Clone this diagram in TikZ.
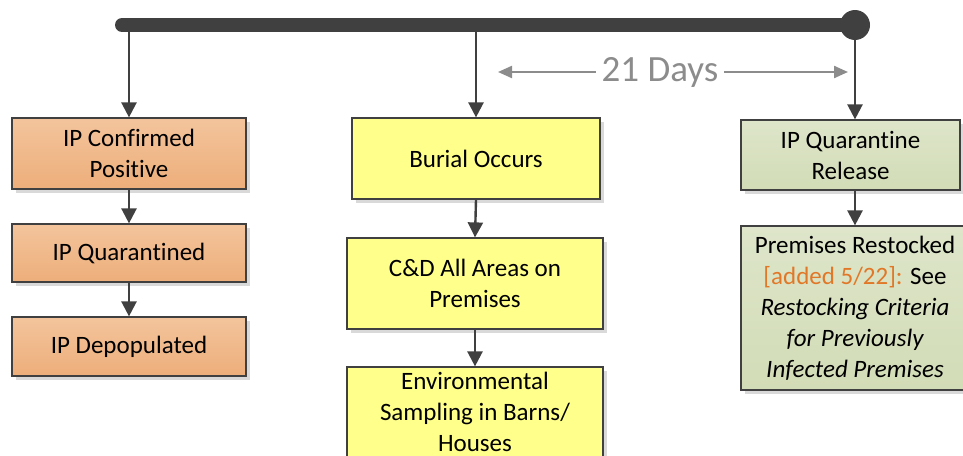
\documentclass[tikz,border=0pt]{standalone}
\usepackage{fontspec}
\setmainfont{Carlito}[Ligatures=CommonOff]
\usetikzlibrary{arrows.meta,shadows}
\definecolor{linec}{HTML}{404040}
\definecolor{orgtop}{RGB}{243,196,156}
\definecolor{orgbot}{RGB}{237,174,122}
\definecolor{yelc}{RGB}{255,255,140}
\definecolor{grntop}{RGB}{222,229,202}
\definecolor{grnbot}{RGB}{210,220,182}
\definecolor{addc}{RGB}{224,120,40}
\definecolor{daysc}{RGB}{140,140,140}
\tikzset{
  box/.style={draw=linec, line width=1.2pt, rectangle, align=center, inner sep=0pt,
    font=\fontsize{25}{31}\selectfont,
    drop shadow={shadow xshift=4pt, shadow yshift=-4pt, fill=black!15, opacity=1}},
  orangebox/.style={box, top color=orgtop, bottom color=orgbot},
  yellowbox/.style={box, fill=yelc},
  greenbox/.style={box, top color=grntop, bottom color=grnbot},
  arr/.style={draw=linec, line width=2.4pt, -{Triangle[width=15pt,length=15pt]}},
  grayarr/.style={draw=daysc, line width=2.2pt, -{Triangle[width=12pt,length=14pt]}}
}
\begin{document}
\begin{tikzpicture}[x=1pt,y=-1pt]
\useasboundingbox (0,0) rectangle (963,455);
\clip (0,0) rectangle (963,455);
% timeline bar
\coordinate (barL) at (122,25);
\coordinate (barR) at (855,25);
\draw[linec, line width=14pt, line cap=round] (barL) -- (barR);
\fill[linec] (barR) circle (15);
% boxes
\node[orangebox, minimum width=234pt, minimum height=71pt] (b1) at (129,153.5) {IP Confirmed\\Positive};
\node[orangebox, minimum width=234pt, minimum height=58pt] (b2) at (129,253) {IP Quarantined};
\node[orangebox, minimum width=234pt, minimum height=59pt] (b3) at (129,346.5) {IP Depopulated};
\node[yellowbox, minimum width=248pt, minimum height=81pt] (m1) at (476,158.5) {Burial Occurs};
\node[yellowbox, minimum width=256pt, minimum height=91pt] (m2) at (475,283.5) {C\&D All Areas on\\Premises};
\node[yellowbox, minimum width=256pt, minimum height=90pt] (m3) at (475,412) {Environmental\\Sampling in Barns/\\Houses};
\node[greenbox, minimum width=219pt, minimum height=70pt] (r1) at (850.5,155) {IP Quarantine\\Release};
\node[greenbox, minimum width=228pt, minimum height=164pt] (r2) at (855,308)
  {Premises Restocked\\{\color{addc}[added 5/22]:} See\\\itshape Restocking Criteria\\\itshape for Previously\\\itshape Infected Premises};
% connectors from bar
\draw[arr] (b1.north |- barL) -- (b1.north);
\draw[arr] (m1.north |- barL) -- (m1.north);
\draw[arr] (barR) -- (barR |- r1.north);
% connectors between boxes
\draw[arr] (b1.south) -- (b2.north);
\draw[arr] (b2.south) -- (b3.north);
\draw[arr] (m1.south) -- (m2.north);
\draw[arr] (m2.south) -- (m3.north);
\draw[arr] (r1.south -| r2.north) -- (r2.north);
% 21 days
\node[text=daysc, font=\fontsize{37}{40}\selectfont, inner sep=0pt] (days) at (660,72.5) {21 Days};
\coordinate (dL) at (498,72);
\coordinate (dR) at (848,72);
\draw[grayarr] (days.west |- dL) ++(-6,0) -- (dL);
\draw[grayarr] (days.east |- dR) ++(6,0) -- (dR);
\end{tikzpicture}
\end{document}
